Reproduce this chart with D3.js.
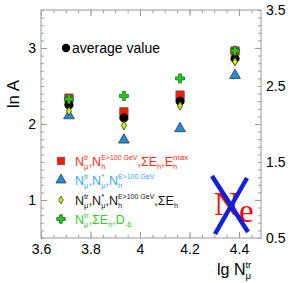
<!DOCTYPE html>
<html>
<head>
<meta charset="utf-8">
<script src="https://cdn.jsdelivr.net/npm/d3@7"></script>
<style>
  body { margin: 0; background: #fff; }
  text { font-family: "Liberation Sans", Arial, sans-serif; }
  .axis path, .axis line { stroke: #9a9a9a; }
  .axis text { font-size: 14px; fill: #000; }
</style>
</head>
<body>
<script>
// data
const lgN = [3.713, 3.935, 4.162, 4.384];
const lnA_red    = [2.34, 2.16, 2.38, 2.96];
const lnA_blue   = [2.11, 1.79, 1.94, 2.64];
const lnA_yellow = [2.17, 1.98, 2.24, 2.82];
const lnA_green  = [2.33, 2.37, 2.60, 2.965];
const lnA_avg    = [2.25, 2.08, 2.30, 2.86];
const xTicks = [3.6, 3.8, 4.0, 4.2, 4.4];
const yTicksLeft = [1, 2, 3];
const yTicksRight = [0.5, 1.5, 2.5, 3.5];

const width = 300, height = 283;
const svg = d3.select("body").append("svg")
  .attr("xmlns", "http://www.w3.org/2000/svg")
  .attr("width", width).attr("height", height);

const L = 41, R = 261, T = 10, B = 238;
const x = d3.scaleLinear().domain([3.6, 4.489]).range([L, R]);
const y = d3.scaleLinear().domain([0.5, 3.5]).range([B, T]);

// frame
svg.append("rect").attr("x", L).attr("y", T).attr("width", R - L).attr("height", B - T)
  .attr("fill", "none").attr("stroke", "#9a9a9a");

const xMinor = d3.range(3.6, 4.489, 0.05);
const yMinor = d3.range(0.5, 3.501, 0.1);

function tickAxis(axis, transform, vals, len) {
  svg.append("g").attr("class", "axis").attr("transform", transform)
    .call(axis.tickValues(vals).tickSize(len).tickFormat(""))
    .call(g => g.select(".domain").remove());
}
tickAxis(d3.axisBottom(x), `translate(0,${B})`, xMinor, -3);
tickAxis(d3.axisTop(x), `translate(0,${T})`, xMinor, -3);
tickAxis(d3.axisLeft(y), `translate(${L},0)`, yMinor, -3);
tickAxis(d3.axisRight(y), `translate(${R},0)`, yMinor, -3);
tickAxis(d3.axisBottom(x), `translate(0,${B})`, xTicks, -6);
tickAxis(d3.axisTop(x), `translate(0,${T})`, xTicks, -6);
tickAxis(d3.axisLeft(y), `translate(${L},0)`, [1, 2, 3], -6);
tickAxis(d3.axisRight(y), `translate(${R},0)`, [1, 2, 3], -6);

// labels
svg.append("g").attr("class", "axis").attr("transform", `translate(0,${B})`)
  .call(d3.axisBottom(x).tickValues(xTicks).tickSize(0).tickPadding(6).tickFormat(d3.format("")))
  .call(g => g.select(".domain").remove());
svg.append("g").attr("class", "axis").attr("transform", `translate(${L},0)`)
  .call(d3.axisLeft(y).tickValues(yTicksLeft).tickSize(0).tickPadding(5).tickFormat(d3.format("")))
  .call(g => g.select(".domain").remove());
svg.append("g").attr("class", "axis").attr("transform", `translate(${R},0)`)
  .call(d3.axisRight(y).tickValues(yTicksRight).tickSize(0).tickPadding(5).tickFormat(d3.format("")))
  .call(g => g.select(".domain").remove());

svg.append("text").attr("transform", "translate(19,94) rotate(-90)")
  .attr("text-anchor", "middle").attr("font-size", 17).text("ln A");

// rich text: parts [{t, sup, sub, ss}]
function rich(x0, y0, parts, color, size) {
  let cx = x0;
  const g = svg.append("g").attr("fill", color);
  parts.forEach(p => {
    if (p.t) {
      const t = g.append("text").attr("x", cx).attr("y", y0).attr("font-size", size).text(p.t);
      cx += t.node().getComputedTextLength();
    }
    let w = 0;
    if (p.sup) {
      const t = g.append("text").attr("x", cx).attr("y", y0 - size * 0.45)
        .attr("font-size", p.ss || size * 0.6).text(p.sup);
      w = Math.max(w, t.node().getComputedTextLength());
    }
    if (p.sub) {
      const t = g.append("text").attr("x", cx).attr("y", y0 + size * 0.25)
        .attr("font-size", size * 0.6).text(p.sub);
      w = Math.max(w, t.node().getComputedTextLength());
    }
    cx += w;
  });
  return cx;
}

rich(217, 275, [{t: "lg N", sup: "tr", sub: "μ"}], "#000", 16);

// markers
const sym = (type, s) => d3.symbol().type(type).size(s)();
function series(vals, type, size, fill, stroke) {
  svg.append("g").selectAll("path").data(vals).join("path")
    .attr("transform", (d, i) => `translate(${x(lgN[i])},${y(d)})`)
    .attr("d", sym(type, size))
    .attr("fill", fill).attr("stroke", stroke).attr("stroke-width", 0.8);
}
series(lnA_red, d3.symbolSquare, 70, "#ff1a00", "#555");
series(lnA_blue, d3.symbolTriangle, 50, "#1e8fd0", "#335");
series(lnA_avg, d3.symbolCircle, 55, "#000", "#000");
series(lnA_yellow, d3.symbolDiamond, 22, "#d4f000", "#333");
series(lnA_green, d3.symbolCross, 45, "#22cc22", "#1a6a1a");

// legend
svg.append("path").attr("transform", "translate(66,48)").attr("d", sym(d3.symbolCircle, 55)).attr("fill", "#000");
svg.append("text").attr("x", 72).attr("y", 53).attr("font-size", 14).text("average value");

const legY = [161, 180, 200, 219];
const legend = [
  {type: d3.symbolSquare, size: 55, fill: "#ff1a00", stroke: "#555", color: "#ff2a10",
   parts: [{t: "N", sup: "tr", sub: "μ"}, {t: ",N", sup: "E>100 GeV", sub: "h", ss: 7},
           {t: ",ΣE", sub: "h"}, {t: ",E", sup: "max", sub: "h", ss: 8}]},
  {type: d3.symbolTriangle, size: 45, fill: "#1e8fd0", stroke: "#335", color: "#33aaee",
   parts: [{t: "N", sup: "tr", sub: "μ"}, {t: ",N", sup: "*", sub: "μ"}, {t: ",N", sup: "E>100 GeV", sub: "h", ss: 7}]},
  {type: d3.symbolDiamond, size: 18, fill: "#d4f000", stroke: "#333", color: "#111",
   parts: [{t: "N", sup: "tr", sub: "μ"}, {t: ",N", sup: "*", sub: "μ"}, {t: ",N", sup: "E>100 GeV", sub: "h", ss: 7},
           {t: ",ΣE", sub: "h"}]},
  {type: d3.symbolCross, size: 40, fill: "#22cc22", stroke: "#1a6a1a", color: "#33cc33",
   parts: [{t: "N", sup: "tr", sub: "μ"}, {t: ",ΣE", sub: "h"}, {t: ",D", sub: "-6"}]}
];
legend.forEach((e, i) => {
  svg.append("path").attr("transform", `translate(61,${legY[i]})`).attr("d", sym(e.type, e.size))
    .attr("fill", e.fill).attr("stroke", e.stroke).attr("stroke-width", 0.8);
  rich(75, legY[i] + 5, e.parts, e.color, 12.5);
});

// Ne logo
svg.append("text").attr("x", 214).attr("y", 215).style("font-family", "'Liberation Serif', serif")
  .attr("font-size", 34).attr("fill", "#ff0000").text("N");
svg.append("text").attr("x", 239).attr("y", 222).style("font-family", "'Liberation Serif', serif")
  .attr("font-size", 33).attr("fill", "#ff0000").text("e");
svg.append("line").attr("x1", 212).attr("y1", 176).attr("x2", 248).attr("y2", 232)
  .attr("stroke", "#1020d8").attr("stroke-width", 4.5);
svg.append("line").attr("x1", 247).attr("y1", 178).attr("x2", 215).attr("y2", 234)
  .attr("stroke", "#1020d8").attr("stroke-width", 4.5);
</script>
</body>
</html>
